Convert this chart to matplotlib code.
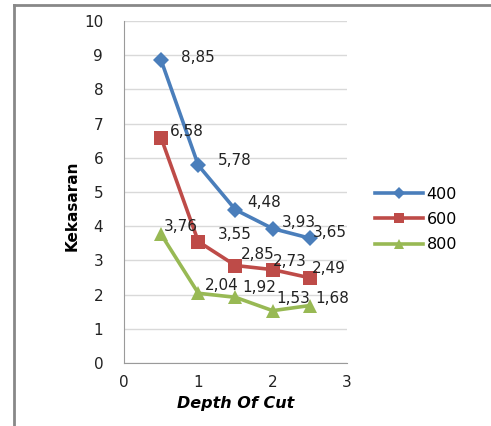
import matplotlib
matplotlib.use("Agg")
import matplotlib.pyplot as plt
from matplotlib.lines import Line2D

# data
depth = [0.5, 1.0, 1.5, 2.0, 2.5]
kek_400 = [8.85, 5.78, 4.48, 3.93, 3.65]
kek_600 = [6.58, 3.55, 2.85, 2.73, 2.49]
kek_800 = [3.76, 2.04, 1.92, 1.53, 1.68]
series_names = ["400", "600", "800"]

COLORS  = ["#4A7EBB", "#BE4B48", "#98B954"]
MARKERS = ["D", "s", "^"]
MSIZES  = [8, 10, 10]
# pixel nudges for the data labels (left edge offset, upward offset), as Excel placed them
LABEL_OFFS = [
    [(20, 3), (20, 5), (12, 7), (9, 6), (3, 6)],
    [(9, 6), (19, 7), (5, 11), (0, 8), (2, 9)],
    [(3, 8), (7, 8), (7, 10), (4, 12), (5, 7)],
]

fig = plt.figure(figsize=(4.91, 4.26), dpi=100)
ax = fig.add_axes([0.2525, 0.1479, 0.4542, 0.8028])

for name, vals, c, m, ms, offs in zip(series_names, [kek_400, kek_600, kek_800],
                                      COLORS, MARKERS, MSIZES, LABEL_OFFS):
    ax.plot(depth, vals, color=c, lw=2.6, marker=m, markersize=ms,
            markeredgewidth=0, label=name, zorder=3)
    for x, y, (dx, dy) in zip(depth, vals, offs):
        ax.annotate(f"{y:.2f}".replace(".", ","), (x, y), xytext=(dx, dy),
                    textcoords="offset pixels", ha="left", va="center",
                    fontsize=11, color="#222222", zorder=4)

ax.set_xlim(0, 3)
ax.set_ylim(0, 10)
ax.set_xticks([0, 1, 2, 3])
ax.set_yticks(range(0, 11))
ax.grid(axis="y", color="#D9D9D9", lw=1)
ax.set_axisbelow(True)
for s in ["top", "right"]:
    ax.spines[s].set_visible(False)
for s in ["left", "bottom"]:
    ax.spines[s].set_color("#9A9A9A")
ax.tick_params(length=0, labelsize=11, colors="#222222")
ax.tick_params(axis="y", pad=15)
ax.tick_params(axis="x", pad=9)

ax.set_xlabel("Depth Of Cut", fontsize=11.5, fontweight="bold", style="italic",
              labelpad=4)
ax.set_ylabel("Kekasaran", fontsize=11, fontweight="bold",
              fontfamily="Liberation Sans Narrow")
ax.yaxis.set_label_coords(-0.2, 0.46)

fig.legend(loc="center left", bbox_to_anchor=(0.75, 0.485), frameon=False,
           fontsize=11.5, handlelength=3.0, labelspacing=0.65, handletextpad=0.25,
           borderaxespad=0, markerscale=0.75)

# outer chart border (left and top edges only visible)
fig.add_artist(Line2D([0.029, 0.029], [0.0, 0.988], transform=fig.transFigure,
                      color="#888888", lw=2))
fig.add_artist(Line2D([0.029, 1.0], [0.988, 0.988], transform=fig.transFigure,
                      color="#888888", lw=2))

fig.savefig("out.png", dpi=100)
